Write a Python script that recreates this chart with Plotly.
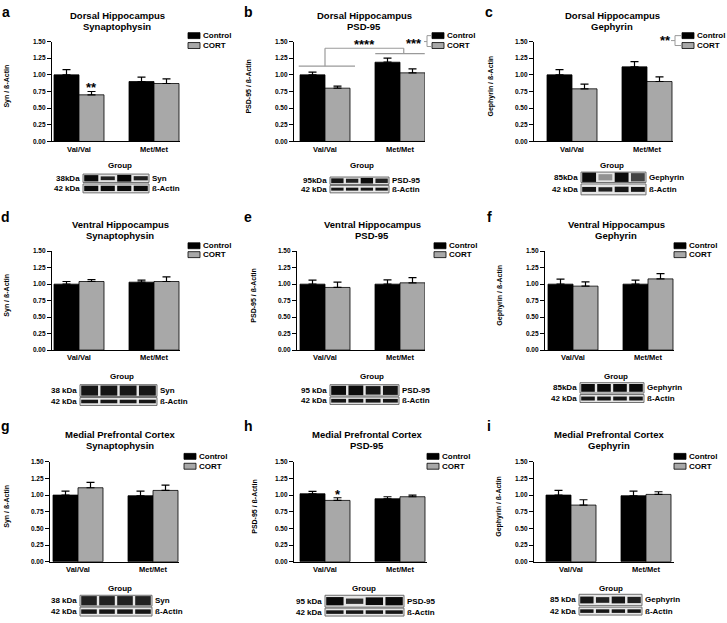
import plotly.graph_objects as go

W, H = 727, 623
FONT = "Liberation Sans"

categories = ["Val/Val", "Met/Met"]
ytick_vals = [0, 0.25, 0.5, 0.75, 1.0, 1.25, 1.5]
ytick_text = ["0.00", "0.25", "0.50", "0.75", "1.00", "1.25", "1.50"]

# a  Dorsal Hippocampus - Synaptophysin
dh_syn_ctrl = [1.00, 0.90]
dh_syn_ctrl_sem = [0.08, 0.065]
dh_syn_cort = [0.70, 0.87]
dh_syn_cort_sem = [0.05, 0.07]
# b  Dorsal Hippocampus - PSD-95
dh_psd_ctrl = [1.00, 1.19]
dh_psd_ctrl_sem = [0.04, 0.06]
dh_psd_cort = [0.80, 1.03]
dh_psd_cort_sem = [0.03, 0.06]
# c  Dorsal Hippocampus - Gephyrin
dh_gep_ctrl = [1.00, 1.12]
dh_gep_ctrl_sem = [0.08, 0.08]
dh_gep_cort = [0.79, 0.90]
dh_gep_cort_sem = [0.07, 0.07]
# d  Ventral Hippocampus - Synaptophysin
vh_syn_ctrl = [1.00, 1.03]
vh_syn_ctrl_sem = [0.04, 0.03]
vh_syn_cort = [1.04, 1.04]
vh_syn_cort_sem = [0.03, 0.07]
# e  Ventral Hippocampus - PSD-95
vh_psd_ctrl = [1.00, 1.00]
vh_psd_ctrl_sem = [0.06, 0.065]
vh_psd_cort = [0.95, 1.02]
vh_psd_cort_sem = [0.08, 0.08]
# f  Ventral Hippocampus - Gephyrin
vh_gep_ctrl = [1.00, 1.00]
vh_gep_ctrl_sem = [0.075, 0.06]
vh_gep_cort = [0.97, 1.08]
vh_gep_cort_sem = [0.065, 0.08]
# g  Medial Prefrontal Cortex - Synaptophysin
pfc_syn_ctrl = [1.00, 0.99]
pfc_syn_ctrl_sem = [0.06, 0.07]
pfc_syn_cort = [1.11, 1.07]
pfc_syn_cort_sem = [0.08, 0.08]
# h  Medial Prefrontal Cortex - PSD-95
pfc_psd_ctrl = [1.02, 0.945]
pfc_psd_ctrl_sem = [0.035, 0.03]
pfc_psd_cort = [0.92, 0.975]
pfc_psd_cort_sem = [0.04, 0.025]
# i  Medial Prefrontal Cortex - Gephyrin
pfc_gep_ctrl = [1.00, 0.99]
pfc_gep_ctrl_sem = [0.07, 0.07]
pfc_gep_cort = [0.85, 1.01]
pfc_gep_cort_sem = [0.08, 0.04]

panel_data = [
    ("a", "Dorsal Hippocampus", "Synaptophysin", "Syn / ß-Actin", dh_syn_ctrl, dh_syn_ctrl_sem, dh_syn_cort, dh_syn_cort_sem),
    ("b", "Dorsal Hippocampus", "PSD-95", "PSD-95 / ß-Actin", dh_psd_ctrl, dh_psd_ctrl_sem, dh_psd_cort, dh_psd_cort_sem),
    ("c", "Dorsal Hippocampus", "Gephyrin", "Gephyrin / ß-Actin", dh_gep_ctrl, dh_gep_ctrl_sem, dh_gep_cort, dh_gep_cort_sem),
    ("d", "Ventral Hippocampus", "Synaptophysin", "Syn / ß-Actin", vh_syn_ctrl, vh_syn_ctrl_sem, vh_syn_cort, vh_syn_cort_sem),
    ("e", "Ventral Hippocampus", "PSD-95", "PSD-95 / ß-Actin", vh_psd_ctrl, vh_psd_ctrl_sem, vh_psd_cort, vh_psd_cort_sem),
    ("f", "Ventral Hippocampus", "Gephyrin", "Gephyrin / ß-Actin", vh_gep_ctrl, vh_gep_ctrl_sem, vh_gep_cort, vh_gep_cort_sem),
    ("g", "Medial Prefrontal Cortex", "Synaptophysin", "Syn / ß-Actin", pfc_syn_ctrl, pfc_syn_ctrl_sem, pfc_syn_cort, pfc_syn_cort_sem),
    ("h", "Medial Prefrontal Cortex", "PSD-95", "PSD-95 / ß-Actin", pfc_psd_ctrl, pfc_psd_ctrl_sem, pfc_psd_cort, pfc_psd_cort_sem),
    ("i", "Medial Prefrontal Cortex", "Gephyrin", "Gephyrin / ß-Actin", pfc_gep_ctrl, pfc_gep_ctrl_sem, pfc_gep_cort, pfc_gep_cort_sem),
]

# ---------- geometry (pixels) ----------
rows = [
    dict(ytop=38, ybot=139, t1=11.5, t2=23, xlab=150, grp=163, letter=8, leg1=32, leg2=42),
    dict(ytop=250, ybot=350, t1=222.5, t2=234, xlab=360, grp=377, letter=215, leg1=244.5, leg2=253.5),
    dict(ytop=463, ybot=564, t1=435.5, t2=447, xlab=575, grp=591, letter=427, leg1=457.5, leg2=467.5),
]
cols = [
    dict(x0=52, x1=180, vc=79, tc=117, ylx=7, lx=188, gc=120),
    dict(x0=294, x1=425, vc=325, tc=364, ylx=249, lx=432, gc=362),
    dict(x0=534, x1=673, vc=572, tc=612, ylx=491, lx=682, gc=612),
    dict(x0=52, x1=180, vc=79, tc=120, ylx=7, lx=188, gc=122),
    dict(x0=297, x1=425, vc=325, tc=372, ylx=254, lx=434, gc=372),
    dict(x0=545, x1=674, vc=573, tc=616, ylx=500, lx=674, gc=616),
    dict(x0=50, x1=179, vc=78, tc=120, ylx=7, lx=184, gc=120),
    dict(x0=294, x1=427, vc=325, tc=367, ylx=255, lx=427, gc=364),
    dict(x0=534, x1=674, vc=571, tc=609, ylx=499, lx=674, gc=611),
]
letter_x = [6, 248, 489, 6, 248, 489, 6, 248, 489]
S = 75.0  # px per category

blots = [
    dict(bx=(83, 149), r1=(172, 180.5), r2=(182, 191), k1="38kDa", k2="42 kDa", name="Syn",
         lanes1=[(0.95, 0.75), (0.85, 0.45), (0.97, 0.8), (0.85, 0.5)], lanes2=[(0.95, 0.6)] * 4),
    dict(bx=(330, 389), r1=(175, 182.5), r2=(183.5, 191), k1="95kDa", k2="42 kDa", name="PSD-95",
         lanes1=[(0.9, 0.65), (0.85, 0.55), (0.95, 0.75), (0.85, 0.6)], lanes2=[(0.9, 0.4)] * 4),
    dict(bx=(581, 646), r1=(170, 180.5), r2=(182, 193), k1="85kDa", k2="42 kDa", name="Gephyrin",
         lanes1=[(0.95, 0.9), (0.35, 0.6), (0.95, 0.9), (0.7, 0.8)], lanes2=[(0.9, 0.45), (0.85, 0.4), (0.9, 0.5), (0.9, 0.45)]),
    dict(bx=(80, 157), r1=(385, 397), r2=(398, 406), k1="38 kDa", k2="42 kDa", name="Syn",
         lanes1=[(0.9, 0.85)] * 4, lanes2=[(0.9, 0.45)] * 4),
    dict(bx=(330, 399), r1=(385, 396.5), r2=(397.5, 405), k1="95 kDa", k2="42 kDa", name="PSD-95",
         lanes1=[(0.95, 0.8), (0.95, 0.85), (0.9, 0.75), (0.9, 0.8)], lanes2=[(0.9, 0.5)] * 4),
    dict(bx=(580, 644), r1=(383, 393.5), r2=(395, 403), k1="85kDa", k2="42 kDa", name="Gephyrin",
         lanes1=[(0.95, 0.75)] * 4, lanes2=[(0.9, 0.5)] * 4),
    dict(bx=(80, 152), r1=(598, 609), r2=(610, 619), k1="38 kDa", k2="42 kDa", name="Syn",
         lanes1=[(0.85, 0.85)] * 4, lanes2=[(0.9, 0.5)] * 4),
    dict(bx=(325, 404), r1=(598, 610), r2=(611, 619), k1="95 kDa", k2="42 kDa", name="PSD-95",
         lanes1=[(0.95, 0.7), (0.8, 0.45), (0.95, 0.65), (0.95, 0.7)], lanes2=[(0.9, 0.45)] * 4),
    dict(bx=(579, 642), r1=(597, 608.5), r2=(610, 618), k1="85 kDa", k2="42 kDa", name="Gephyrin",
         lanes1=[(0.9, 0.6), (0.85, 0.5), (0.9, 0.6), (0.85, 0.55)], lanes2=[(0.9, 0.45)] * 4),
]

CTRL_COLOR = "#000000"
CORT_COLOR = "#a8a8a8"


def P(x):
    return x / W


def Q(y):
    return 1 - y / H


def txt(x, y, s, size, xanchor="center", angle=0, bold=True):
    return dict(x=P(x), y=Q(y), xref="paper", yref="paper", text=s, showarrow=False,
                xanchor=xanchor, yanchor="middle", textangle=angle, borderpad=0,
                font=dict(family=FONT, size=size, color="black", weight="bold" if bold else "normal"))


def pline(x0, y0, x1, y1, color="black", width=1):
    return dict(type="line", xref="paper", yref="paper", x0=P(x0), y0=Q(y0), x1=P(x1), y1=Q(y1),
                line=dict(color=color, width=width))


fig = go.Figure()
annotations = []
shapes = []
layout = {}

for n, (letter, region, protein, ylab, ctrl, ctrl_sem, cort, cort_sem) in enumerate(panel_data, start=1):
    r = rows[(n - 1) // 3]
    c = cols[n - 1]
    xa = "x" if n == 1 else f"x{n}"
    ya = "y" if n == 1 else f"y{n}"
    for vals, sem, col, nm in [(ctrl, ctrl_sem, CTRL_COLOR, "Control"), (cort, cort_sem, CORT_COLOR, "CORT")]:
        fig.add_trace(go.Bar(
            x=categories, y=vals, name=nm, offsetgroup=nm, xaxis=xa, yaxis=ya, showlegend=False,
            marker=dict(color=col, line=dict(color="black", width=0.8)),
            error_y=dict(type="data", array=sem, arrayminus=[0] * len(sem), symmetric=False,
                         color="black", thickness=1.2, width=4),
        ))
    layout["xaxis" if n == 1 else f"xaxis{n}"] = dict(
        domain=[P(c["x0"]), P(c["x1"])], range=[(c["x0"] - c["vc"]) / S, (c["x1"] - c["vc"]) / S],
        anchor=ya, showline=True, linecolor="black", linewidth=1.3, ticks="", showgrid=False,
        zeroline=False, tickfont=dict(family=FONT, size=7.5, color="black", weight="bold"),
        fixedrange=True, type="category")
    layout["yaxis" if n == 1 else f"yaxis{n}"] = dict(
        domain=[Q(r["ybot"]), Q(r["ytop"])], range=[0, 1.5], anchor=xa, showline=True,
        linecolor="black", linewidth=1.3, ticks="outside", ticklen=4, tickwidth=1, tickcolor="black",
        tickvals=ytick_vals, ticktext=ytick_text, showgrid=False, zeroline=False,
        tickfont=dict(family=FONT, size=6.5, color="black", weight="bold"), fixedrange=True)

    annotations.append(txt(letter_x[n - 1], r["letter"], letter, 14))
    annotations.append(txt(c["tc"], r["t1"], region, 9.5))
    annotations.append(txt(c["tc"], r["t2"], protein, 9.5))
    annotations.append(txt(c["ylx"], (r["ytop"] + r["ybot"]) / 2 - 5, ylab, 7, angle=-90))
    annotations.append(txt(c["gc"], r["grp"], "Group", 8))
    for yy, col, nm in [(r["leg1"], CTRL_COLOR, "Control"), (r["leg2"], CORT_COLOR, "CORT")]:
        shapes.append(dict(type="rect", xref="paper", yref="paper", x0=P(c["lx"]), x1=P(c["lx"] + 12),
                           y0=Q(yy + 3), y1=Q(yy - 3), fillcolor=col, line=dict(color="black", width=0.8)))
        annotations.append(txt(c["lx"] + 14, yy, nm, 8, xanchor="left"))

    b = blots[n - 1]
    bx0, bx1 = b["bx"]
    for (ry0, ry1), lanes, klab, plab in [(b["r1"], b["lanes1"], b["k1"], b["name"]),
                                          (b["r2"], b["lanes2"], b["k2"], "ß-Actin")]:
        shapes.append(dict(type="rect", xref="paper", yref="paper", x0=P(bx0), x1=P(bx1), y0=Q(ry1), y1=Q(ry0),
                           fillcolor="#e6e6e6", line=dict(color="#6e6e6e", width=1)))
        lw = (bx1 - bx0) / 4.0
        ym = (ry0 + ry1) / 2
        hh = ry1 - ry0
        for k, (inten, thick) in enumerate(lanes):
            g = int(225 * (1 - inten))
            shapes.append(dict(type="rect", xref="paper", yref="paper",
                               x0=P(bx0 + k * lw + 1.2), x1=P(bx0 + (k + 1) * lw - 1.2),
                               y0=Q(ym + hh * thick / 2), y1=Q(ym - hh * thick / 2),
                               fillcolor=f"rgb({g},{g},{g})", line=dict(width=0), layer="above"))
        annotations.append(txt(bx0 - 2, ym, klab, 8, xanchor="right"))
        annotations.append(txt(bx1 + 2, ym, plab, 8, xanchor="left"))

annotations.append(dict(x=1 / 6, y=dh_syn_cort[0] + dh_syn_cort_sem[0] + 0.06, xref="x", yref="y", text="**",
                        showarrow=False, font=dict(family=FONT, size=13, color="black", weight="bold")))
annotations.append(dict(x=1 / 6, y=pfc_psd_cort[0] + pfc_psd_cort_sem[0] + 0.05, xref="x8", yref="y8", text="*",
                        showarrow=False, font=dict(family=FONT, size=13, color="black", weight="bold")))

GR = "#9a9a9a"
for x0, y0, x1, y1 in [(-0.35, 1.13, 0.4, 1.13), (0.67, 1.32, 1.33, 1.32), (0, 1.13, 0, 1.40),
                       (0, 1.40, 1.05, 1.40), (1.05, 1.40, 1.05, 1.32)]:
    shapes.append(dict(type="line", xref="x2", yref="y2", x0=x0, y0=y0, x1=x1, y1=y1,
                       line=dict(color=GR, width=1.2)))
annotations.append(dict(x=0.53, y=1.45, xref="x2", yref="y2", text="****", showarrow=False,
                        font=dict(family=FONT, size=13, color="black", weight="bold")))

annotations.append(txt(414, 40, "***", 13))
shapes += [pline(424, 38, 427, 38, GR, 1), pline(427, 32, 427, 43, GR, 1),
           pline(427, 32, 432, 32, GR, 1), pline(427, 43, 432, 43, GR, 1)]
annotations.append(txt(665, 37, "**", 13))
shapes += [pline(671, 37, 675, 37, GR, 1), pline(675, 32, 675, 42, GR, 1),
           pline(675, 32, 682, 32, GR, 1), pline(675, 42, 682, 42, GR, 1)]

fig.update_layout(
    width=W, height=H, margin=dict(l=0, r=0, t=0, b=0), paper_bgcolor="white", plot_bgcolor="white",
    barmode="group", bargap=1 / 3, bargroupgap=0, showlegend=False,
    annotations=annotations, shapes=shapes, **layout)

fig.write_html("out.html", config={"displayModeBar": False},
               post_script="document.body.style.margin='0';")
